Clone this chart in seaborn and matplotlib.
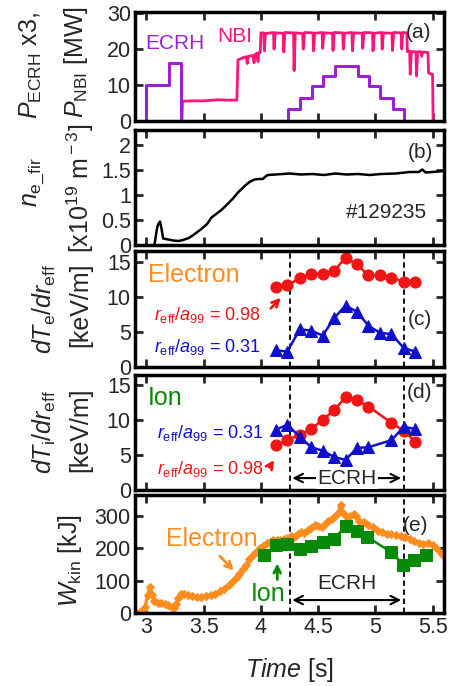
import numpy as np
import seaborn as sns
import matplotlib.pyplot as plt
from matplotlib.ticker import FormatStrFormatter, MultipleLocator

# ---- (a) heating power ----
ecrh_t = [2.99, 3.0, 3.2, 3.3, 4.235, 4.34, 4.445, 4.545, 4.645, 4.845, 4.945, 5.045, 5.15, 5.25]
ecrh_p = [0, 10, 16.2, 0, 3.3, 6.5, 9.6, 12.6, 15.4, 12.6, 9.6, 6.5, 3.3, 0]

nbi_t = [3.31, 3.315, 3.40, 3.50, 3.58, 3.62, 3.70, 3.79, 3.795, 3.80, 3.86, 3.875, 3.88, 3.89,
         3.93, 3.94, 3.95, 3.965, 3.975, 3.98, 3.995, 4.0,
         4.025, 4.03, 4.04, 4.11, 4.115, 4.125, 4.195, 4.20, 4.21, 4.285, 4.29, 4.30,
         4.365, 4.37, 4.38, 4.455, 4.46, 4.47, 4.535, 4.54, 4.55, 4.625, 4.63, 4.64,
         4.715, 4.72, 4.73, 4.795, 4.80, 4.81, 4.885, 4.89, 4.90, 4.975, 4.98, 4.99,
         5.055, 5.06, 5.07, 5.145, 5.15, 5.16, 5.225, 5.23, 5.24, 5.275, 5.28,
         5.30, 5.305, 5.315, 5.355, 5.36, 5.37, 5.40, 5.405, 5.415, 5.46, 5.465, 5.49, 5.50, 5.505]
nbi_p = [0, 5.5, 5.6, 5.6, 5.8, 5.9, 5.8, 5.8, 12, 17, 17.8, 17.8, 16, 18,
         18.2, 16.2, 18.5, 18.8, 16.5, 19, 19, 24.5,
         24.5, 19.5, 24.3, 24.6, 20, 24.5, 24.4, 19.2, 24.6, 24.5, 14, 24.5,
         24.3, 20, 24.6, 24.5, 19.5, 24.4, 24.6, 20.2, 24.5, 24.4, 19.6, 24.6,
         24.5, 20, 24.4, 24.6, 19.5, 24.5, 24.4, 20.2, 24.6, 24.5, 19.5, 24.4,
         24.6, 20, 24.5, 24.4, 19.6, 24.6, 24.5, 20, 24.6, 24.5, 19.3,
         19.4, 13, 19.3, 19.2, 12.5, 19.3, 19.2, 18, 19.2, 19, 13.4, 13, 13, 0]

# ---- (b) line-averaged density ----
ne_t = [3.07, 3.09, 3.10, 3.118, 3.13, 3.146, 3.19, 3.233, 3.28, 3.32, 3.37, 3.41, 3.48, 3.53,
        3.568, 3.655, 3.70, 3.756, 3.80, 3.858, 3.90, 3.945, 3.98, 4.017, 4.04, 4.06, 4.13,
        4.25, 4.35, 4.45, 4.55, 4.65, 4.75, 4.85, 4.95, 5.05, 5.18, 5.30, 5.38, 5.41, 5.44, 5.50, 5.60]
ne_v = [0.0, 0.3, 0.4, 0.47, 0.35, 0.13, 0.11, 0.09, 0.08, 0.10, 0.14, 0.20, 0.32, 0.42,
        0.55, 0.70, 0.80, 0.93, 1.05, 1.18, 1.26, 1.31, 1.32, 1.32, 1.37, 1.40, 1.41,
        1.43, 1.41, 1.42, 1.40, 1.43, 1.41, 1.42, 1.40, 1.42, 1.43, 1.46, 1.46, 1.51, 1.45, 1.46, 1.48]

# ---- (c), (d) gradients ----
grad_t = [4.13, 4.23, 4.34, 4.44, 4.54, 4.64, 4.74, 4.84, 4.94, 5.04, 5.14, 5.25, 5.35]
te_edge = [11.5, 11.7, 12.7, 13.3, 13.3, 13.8, 15.6, 14.7, 13.1, 13.1, 12.8, 12.2, 12.1]
te_core = [2.4, 2.2, 5.4, 5.2, 4.5, 7.0, 8.8, 7.9, 5.9, 4.9, 4.7, 2.7, 2.2]
ti_t = [4.13, 4.23, 4.34, 4.44, 4.54, 4.64, 4.74, 4.84, 4.94, 5.14, 5.25, 5.35]
ti_edge = [6.4, 7.1, 7.9, 8.7, 10.0, 11.4, 13.2, 12.8, 11.9, 9.6, 8.4, 6.9]
ti_core = [8.6, 9.3, 7.6, 6.1, 5.6, 4.7, 4.3, 6.0, 6.1, 7.1, 9.0, 8.7]

# ---- (e) kinetic energy ----
we_t = [2.90, 2.94, 2.97, 2.99, 3.01, 3.03, 3.05, 3.07, 3.10, 3.13, 3.16, 3.19, 3.22, 3.24, 3.26,
        3.28, 3.30, 3.33, 3.36, 3.40, 3.44, 3.48, 3.52, 3.56, 3.60, 3.64, 3.68, 3.72, 3.76, 3.79,
        3.81, 3.84, 3.87, 3.90, 3.93, 3.96, 3.99, 4.02, 4.05, 4.08, 4.11, 4.14, 4.17, 4.20, 4.23,
        4.26, 4.29, 4.32, 4.35, 4.38, 4.41, 4.44, 4.47, 4.50, 4.53, 4.56, 4.59, 4.62, 4.65, 4.68,
        4.70, 4.72, 4.75, 4.78, 4.81, 4.83, 4.86, 4.90, 4.94, 4.98, 5.02, 5.06, 5.10, 5.14, 5.18,
        5.22, 5.26, 5.30, 5.34, 5.38, 5.42, 5.46, 5.50, 5.53, 5.57, 5.60]
we_v = [3, 2, 8, 20, 55, 80, 55, 38, 32, 30, 27, 25, 18, 15, 28,
        45, 60, 58, 56, 52, 50, 50, 53, 56, 60, 67, 75, 86, 98, 110,
        122, 135, 150, 168, 180, 190, 200, 208, 215, 220, 225, 226, 225, 228, 232,
        238, 236, 244, 250, 248, 258, 262, 272, 268, 265, 275, 285, 290, 300, 312,
        335, 310, 298, 300, 305, 300, 285, 280, 273, 265, 255, 250, 245, 243, 240,
        238, 236, 228, 222, 218, 212, 215, 210, 200, 185, 175]
wi_t = [4.03, 4.13, 4.23, 4.34, 4.44, 4.54, 4.64, 4.74, 4.84, 4.93, 5.14, 5.24, 5.34, 5.44]
wi_v = [180, 210, 212, 197, 208, 219, 230, 268, 254, 235, 188, 150, 165, 180]

ecrh_on = [4.25, 5.25]

# colours
c_ecrh = '#9a22d4'
c_nbi = '#ff1477'
c_orange = '#ff8c1f'
c_red = '#f01414'
c_blue = '#1010cc'
c_green = '#088a08'

sns.set_style('ticks')
plt.rcParams['font.family'] = ['Liberation Sans', 'DejaVu Sans']
plt.rcParams['mathtext.fontset'] = 'custom'
plt.rcParams['mathtext.rm'] = 'Liberation Sans'
plt.rcParams['mathtext.it'] = 'Liberation Sans:italic'
plt.rcParams['mathtext.default'] = 'it'

W, H = 458, 686
fig = plt.figure(figsize=(W / 100, H / 100), dpi=100)


def box(top, bottom):
    return [135 / W, 1 - bottom / H, 309 / W, (bottom - top) / H]


def ylab(text, x, y, size=18):
    # axis titles placed by pixel centre (x, y from top-left)
    fig.text(x / W, 1 - y / H, text, rotation=90, ha='center', va='center', fontsize=size)


ax_a = fig.add_axes(box(12, 121))
ax_b = fig.add_axes(box(130, 245))
ax_c = fig.add_axes(box(251, 367))
ax_d = fig.add_axes(box(375, 490))
ax_e = fig.add_axes(box(495, 613))
axes = [ax_a, ax_b, ax_c, ax_d, ax_e]

tick_fs = 15.5

for ax in axes:
    ax.set_xlim(2.9, 5.6)
    ax.xaxis.set_major_locator(MultipleLocator(0.5))
    ax.tick_params(direction='in', length=6, width=2, top=True, right=True,
                   labelsize=tick_fs, pad=3)
    for s in ax.spines.values():
        s.set_linewidth(2.5)
        s.set_color('black')
    ax.yaxis.set_major_formatter(FormatStrFormatter('%g'))
    ax.xaxis.set_major_formatter(FormatStrFormatter('%g'))
    if ax is not ax_e:
        ax.tick_params(labelbottom=False)

# (a)
sns.lineplot(x=nbi_t, y=nbi_p, ax=ax_a, color=c_nbi, lw=2, estimator=None, sort=False)
sns.lineplot(x=ecrh_t, y=ecrh_p, ax=ax_a, color=c_ecrh, lw=2.2, estimator=None, sort=False,
             drawstyle='steps-post')
ax_a.set_ylim(0, 30.3)
ax_a.yaxis.set_major_locator(MultipleLocator(10))
ax_a.text(3.25, 21.5, 'ECRH', color=c_ecrh, fontsize=15, ha='center', va='center')
ax_a.text(3.77, 23.5, 'NBI', color=c_nbi, fontsize=15, ha='center', va='center')
ax_a.text(5.38, 24.6, '(a)', fontsize=15, ha='center', va='center')
ylab('$P_{\\rm ECRH}$ x3,', 31, 66)
ylab('$P_{\\rm NBI}$ [MW]', 76, 62)

# (b)
sns.lineplot(x=ne_t, y=ne_v, ax=ax_b, color='black', lw=1.8, estimator=None, sort=False)
ax_b.set_ylim(0, 2.3)
ax_b.yaxis.set_major_locator(MultipleLocator(0.5))
ax_b.text(5.39, 1.84, '(b)', fontsize=15, ha='center', va='center')
ax_b.text(5.45, 0.65, '#129235', fontsize=15, ha='right', va='center')
ylab('$n_{\\rm e\\_fir}$', 34, 182)
ylab('[x10$^{\\rm 19}$ m$^{\\rm -3}$]', 80, 188)

# (c)
sns.lineplot(x=grad_t, y=te_edge, ax=ax_c, color=c_red, lw=1.8, marker='o', markersize=8,
             markeredgecolor=c_red, estimator=None, sort=False)
sns.lineplot(x=grad_t, y=te_core, ax=ax_c, color=c_blue, lw=1.8, marker='^', markersize=9,
             markeredgecolor=c_blue, estimator=None, sort=False)
ax_c.set_ylim(0, 16.6)
ax_c.yaxis.set_major_locator(MultipleLocator(5))
ax_c.text(3.01, 13.1, 'Electron', color=c_orange, fontsize=18, ha='left', va='center')
ax_c.text(3.07, 7.4, '$r_{\\rm eff}/a_{\\rm 99}$ = 0.98', color=c_red, fontsize=13, ha='left', va='center')
ax_c.text(3.07, 2.9, '$r_{\\rm eff}/a_{\\rm 99}$ = 0.31', color=c_blue, fontsize=13, ha='left', va='center')
ax_c.annotate('', xy=(4.19, 10.2), xytext=(4.07, 8.1),
              arrowprops=dict(arrowstyle='->', color=c_red, lw=2, mutation_scale=12))
ax_c.text(5.385, 6.8, '(c)', fontsize=15, ha='center', va='center')
ylab('$dT_{\\rm e}/dr_{\\rm eff}$', 44, 309)
ylab('[keV/m]', 80, 305)

# (d)
sns.lineplot(x=ti_t, y=ti_edge, ax=ax_d, color=c_red, lw=1.8, marker='o', markersize=8,
             markeredgecolor=c_red, estimator=None, sort=False)
sns.lineplot(x=ti_t, y=ti_core, ax=ax_d, color=c_blue, lw=1.8, marker='^', markersize=9,
             markeredgecolor=c_blue, estimator=None, sort=False)
ax_d.set_ylim(0, 16.4)
ax_d.yaxis.set_major_locator(MultipleLocator(5))
ax_d.text(3.01, 13.1, 'Ion', color=c_green, fontsize=18, ha='left', va='center')
ax_d.text(3.09, 8.1, '$r_{\\rm eff}/a_{\\rm 99}$ = 0.31', color=c_blue, fontsize=13, ha='left', va='center')
ax_d.text(3.09, 3.0, '$r_{\\rm eff}/a_{\\rm 99}$ = 0.98', color=c_red, fontsize=13, ha='left', va='center')
ax_d.annotate('', xy=(4.13, 4.6), xytext=(4.06, 2.9),
              arrowprops=dict(arrowstyle='->', color=c_red, lw=2, mutation_scale=12))
ax_d.annotate('', xy=(ecrh_on[0], 1.7), xytext=(ecrh_on[1], 1.7),
              arrowprops=dict(arrowstyle='<->', color='black', lw=1.5, mutation_scale=15))
ax_d.text(4.75, 1.7, 'ECRH', fontsize=15, ha='center', va='center',
          bbox=dict(facecolor='white', edgecolor='none', pad=1))
ax_d.text(5.385, 13.9, '(d)', fontsize=15, ha='center', va='center')
ylab('$dT_{\\rm i}/dr_{\\rm eff}$', 44, 432)
ylab('[keV/m]', 80, 430)

# (e)
sns.lineplot(x=we_t, y=we_v, ax=ax_e, color=c_orange, lw=2.5, marker='D', markersize=4,
             markeredgecolor=c_orange, estimator=None, sort=False)
sns.lineplot(x=wi_t, y=wi_v, ax=ax_e, color=c_green, lw=1.8, marker='s', markersize=9,
             markeredgecolor=c_green, estimator=None, sort=False)
ax_e.set_ylim(0, 365)
ax_e.yaxis.set_major_locator(MultipleLocator(100))
ax_e.text(3.57, 229, 'Electron', color=c_orange, fontsize=18, ha='center', va='center')
ax_e.annotate('', xy=(3.78, 125), xytext=(3.625, 182),
              arrowprops=dict(arrowstyle='->', color=c_orange, lw=2, mutation_scale=12))
ax_e.text(4.06, 60, 'Ion', color=c_green, fontsize=18, ha='center', va='center')
ax_e.annotate('', xy=(4.143, 162), xytext=(4.143, 95),
              arrowprops=dict(arrowstyle='->', color=c_green, lw=2, mutation_scale=12))
ax_e.annotate('', xy=(ecrh_on[0], 40), xytext=(ecrh_on[1], 40),
              arrowprops=dict(arrowstyle='<->', color='black', lw=1.5, mutation_scale=15))
ax_e.text(4.755, 90, 'ECRH', fontsize=15, ha='center', va='center')
ax_e.text(5.35, 272, '(e)', fontsize=15, ha='center', va='center')
ylab('$W_{\\rm kin}$ [kJ]', 70, 561)
ax_e.set_xlabel('$Time$ [s]', fontsize=18, labelpad=13)

for ax in (ax_c, ax_d, ax_e):
    for t0 in ecrh_on:
        ax.axvline(t0, color='black', lw=1.3, ls=(0, (3, 2)), zorder=1)

fig.savefig('out.png', dpi=100)
